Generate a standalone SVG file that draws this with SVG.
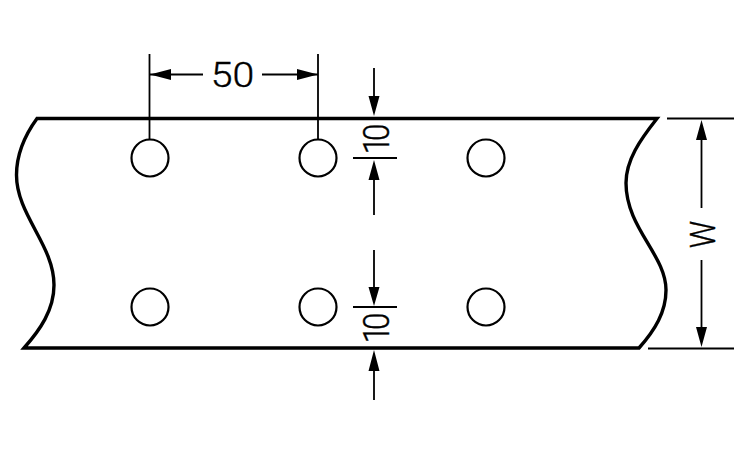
<svg xmlns="http://www.w3.org/2000/svg" width="750" height="450" viewBox="0 0 750 450">
<style>
.o{fill:none;stroke:#000;stroke-width:3.4;stroke-linejoin:miter}
.c{fill:#fff;stroke:#000;stroke-width:2.2}
.d{fill:none;stroke:#000;stroke-width:1.8}
.h{fill:#000;stroke:none}
text{font-family:"Roboto","Liberation Sans",sans-serif;font-weight:300;fill:#000;stroke:#000;stroke-width:.4;text-anchor:middle}
.r{letter-spacing:-5px}
</style>
<rect width="750" height="450" fill="#fff"/>
<g id="strip"><path class="o" d="M37 118.500H657C640 140 626 160 626 183C626 228 666 255 666 290C666 312 655 330 639 348H24C40 330 54 310 54 285C54 245 16.500 215 16.500 175C16.500 155 25 135 37 118.500Z"/></g>
<g id="hole-1"><circle class="c" cx="150" cy="158" r="18.500"/></g>
<g id="hole-2"><circle class="c" cx="318" cy="158" r="18.500"/></g>
<g id="hole-3"><circle class="c" cx="486" cy="158" r="18.500"/></g>
<g id="hole-4"><circle class="c" cx="150" cy="307" r="18.500"/></g>
<g id="hole-5"><circle class="c" cx="318" cy="307" r="18.500"/></g>
<g id="hole-6"><circle class="c" cx="486" cy="307" r="18.500"/></g>
<g id="connectors">
<path class="d" d="M149.500 54V139.500M318 54V139.500M150 74.500H203M262 74.500H318M374 68V100M353 158H397M374 175V215M374 250V292M353 307H397M374 365V400M667 118.500H734M648 348.500H734M701.500 130V208M701.500 260V335"/>
<path class="h" d="M150 74.500L171 69V80ZM318 74.500L297 69V80ZM374 116L368.500 96H379.500ZM374 160L368.500 180H379.500ZM374 306L368.500 287H379.500ZM374 350L368.500 371H379.500ZM701.500 120L696 140H707ZM701.500 347L696 327H707Z"/>
</g>
<g id="labels">
<text transform="translate(232.500 87) scale(1.12 1)" font-size="35">50</text>
<text class="r" transform="translate(388.500 141) rotate(-90) scale(.85 1)" font-size="37">10</text>
<text class="r" transform="translate(388.500 330) rotate(-90) scale(.85 1)" font-size="37">10</text>
<text transform="translate(714.500 234.500) rotate(-90) scale(.85 1)" font-size="36">W</text>
</g>
</svg>
